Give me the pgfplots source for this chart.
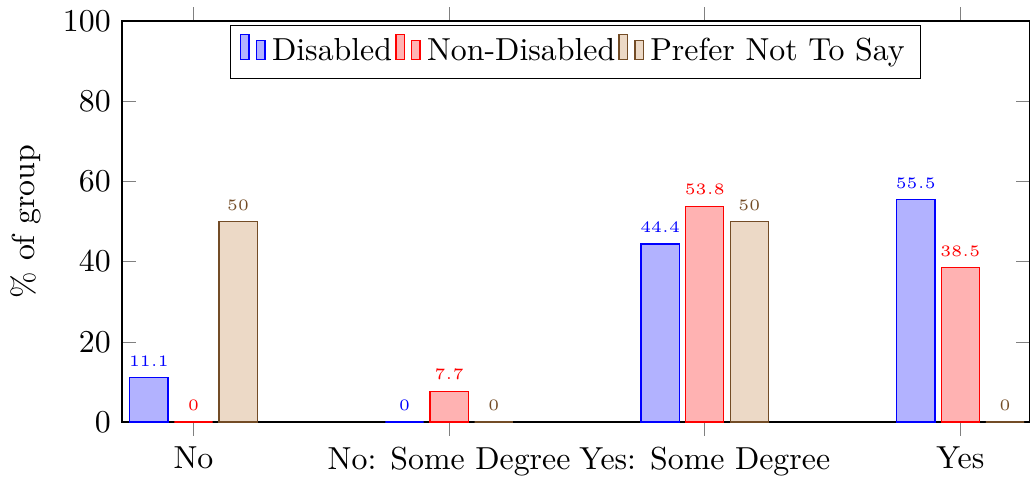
\documentclass[border=0pt]{standalone}
\usepackage{pgfplots}
\pgfplotsset{compat=1.18}
\begin{document}
\begin{tikzpicture}
\begin{axis}[
  scale only axis,
  width=285pt, height=126pt,
  ybar, bar width=12pt,
  ymin=0, ymax=100,
  xmin=-0.28, xmax=3.27,
  xtick={0,1,2,3},
  xticklabels={No, No: Some Degree, Yes: Some Degree, Yes},
  ytick={0,20,40,60,80,100},
  ylabel={\% of group},
  nodes near coords,
  every node near coord/.append style={font=\tiny},
  legend image code/.code={\draw[#1,yshift=-0.25em] (0cm,0cm) rectangle (2.6pt,0.8em) (5pt,0cm) rectangle (7.6pt,0.6em);},
  legend style={at={(0.5,0.99)}, anchor=north, legend columns=-1, /tikz/every even column/.append style={column sep=-1pt}},
]
\addplot[draw=blue, fill=blue!30, nodes near coords style={blue}] coordinates {(0,11.1) (1,0) (2,44.4) (3,55.5)};
\addplot[draw=red, fill=red!30, nodes near coords style={red}] coordinates {(0,0) (1,7.7) (2,53.8) (3,38.5)};
\addplot[draw=brown!60!black, fill=brown!30, nodes near coords style={brown!60!black}] coordinates {(0,50) (1,0) (2,50) (3,0)};
\legend{Disabled, Non-Disabled, Prefer Not To Say}
\end{axis}
\end{tikzpicture}
\end{document}
